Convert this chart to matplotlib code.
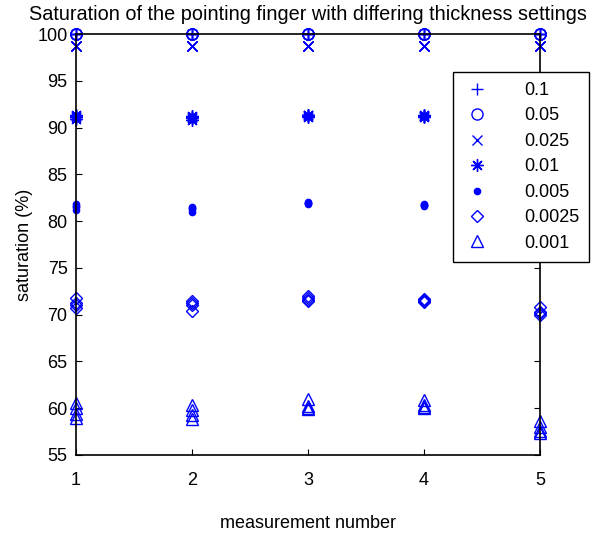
import numpy as np
import matplotlib
matplotlib.use('Agg')
import matplotlib.pyplot as plt

plt.rcParams['font.family'] = ['Liberation Sans', 'DejaVu Sans']

# measurement index and thickness settings
measurements = [1, 2, 3, 4, 5]
thickness = ['0.1', '0.05', '0.025', '0.01', '0.005', '0.0025', '0.001']
markers = ['+', 'o', 'x', (8, 2, 0), '.', 'D', '^']

# repeated saturation readings (%) per measurement, one row per measurement
sat_01 = [[100, 100, 100, 100]] * 5
sat_005 = [[100, 100, 100, 100]] * 5
sat_0025 = [[98.7, 98.7, 98.7, 98.7]] * 5
sat_001 = [[91.4, 91.1, 90.9, 91.2],
           [91.2, 90.8, 91.0, 91.1],
           [91.3, 91.2, 91.4, 91.1],
           [91.2, 91.3, 91.1, 91.2],
           [91.0, 91.2, 90.9, 91.1]]
sat_0005 = [[81.8, 81.5, 81.2, 81.6],
            [81.5, 81.0, 81.3, 81.4],
            [81.9, 82.0, 81.8, 81.9],
            [81.7, 81.6, 81.8, 81.7],
            [81.5, 81.3, 81.6, 81.4]]
sat_00025 = [[71.8, 71.3, 70.7, 71.0],
             [71.5, 71.2, 70.4, 71.0],
             [72.0, 71.6, 71.5, 71.8],
             [71.7, 71.5, 71.6, 71.4],
             [70.8, 70.2, 70.0, 70.3]]
sat_0001 = [[60.6, 60.0, 59.4, 59.0],
            [60.3, 59.8, 59.3, 58.8],
            [61.0, 60.2, 60.0, 59.9],
            [60.9, 60.3, 60.1, 60.0],
            [58.6, 58.0, 57.6, 57.4]]

series = [sat_01, sat_005, sat_0025, sat_001, sat_0005, sat_00025, sat_0001]
sizes = [9, 8, 7, 9, 9, 6.5, 8.5]

fig = plt.figure(figsize=(5.93, 5.41), dpi=100)
ax = fig.add_axes([0.128, 0.159, 0.7825, 0.778])

for label, mk, ms, vals in zip(thickness, markers, sizes, series):
    vals = np.array(vals)
    xs = np.repeat(measurements, vals.shape[1])
    hollow = mk in ('o', 'D', '^')
    ax.plot(xs, vals.ravel(), linestyle='none', marker=mk, color='#0000ff',
            markerfacecolor='none' if hollow else '#0000ff',
            markersize=ms, markeredgewidth=1.0, label=label, clip_on=False)

ax.set_xlim(1, 5)
ax.set_ylim(55, 100)
ax.set_xticks(measurements)
ax.set_yticks(np.arange(55, 101, 5))
ax.tick_params(direction='in', length=4, top=True, right=True, labelsize=13)
ax.tick_params(axis='x', pad=12)
ax.tick_params(axis='y', pad=6)
for s in ax.spines.values():
    s.set_linewidth(1.2)

ax.set_xlabel('measurement number', fontsize=13, labelpad=19)
ax.set_ylabel('saturation (%)', fontsize=13, labelpad=3)
ax.set_title('Saturation of the pointing finger with differing thickness settings',
             fontsize=14.3, pad=10)

leg = ax.legend(loc='upper left', bbox_to_anchor=(0.8125, 0.91), fontsize=13,
                frameon=True, fancybox=False, edgecolor='black', framealpha=1,
                handlelength=1.6, labelspacing=0.47, borderpad=0.55,
                handletextpad=1.8, borderaxespad=0)
leg.get_frame().set_linewidth(1.0)
leg.set_clip_on(False)

fig.savefig('out.png', dpi=100)
